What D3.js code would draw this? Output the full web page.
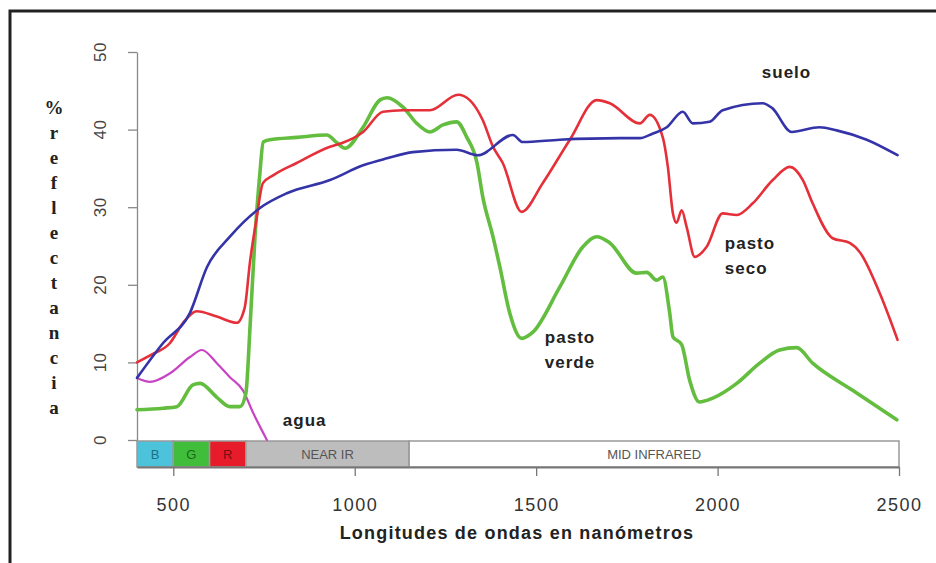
<!DOCTYPE html>
<html lang="es">
<head>
  <meta charset="UTF-8" />
  <title>Firmas espectrales</title>
  <script src="https://d3js.org/d3.v7.min.js"></script>
  <style>
    body { margin: 0; background: #fff; }
    text { font-family: "Liberation Sans", Arial, sans-serif; }
  </style>
</head>
<body>
  <svg id="chart" width="936" height="563"></svg>

  <script>
    // reflectance curves, wavelength in nm / % reflectance
    const sueloNm = [400, 472, 546, 593, 656, 739, 813, 932, 1023, 1089, 1160, 1281, 1339, 1436, 1463, 1565, 1731, 1786, 1822, 1860, 1904, 1932, 1978, 2014, 2124, 2150, 2204, 2281, 2328, 2411, 2496];
    const sueloVal = [8.0, 12.5, 16.4, 22.3, 26.2, 29.9, 31.8, 33.5, 35.4, 36.3, 37.1, 37.4, 36.7, 39.3, 38.4, 38.7, 38.9, 38.9, 39.5, 40.3, 42.3, 40.8, 41.0, 42.5, 43.4, 42.8, 39.7, 40.3, 39.9, 38.7, 36.7];

    const secoNm = [400, 440, 491, 527, 565, 620, 675, 697, 711, 730, 747, 775, 840, 932, 967, 1023, 1078, 1133, 1207, 1285, 1317, 1353, 1381, 1408, 1460, 1518, 1593, 1667, 1703, 1786, 1813, 1849, 1863, 1877, 1887, 1901, 1915, 1937, 1970, 2014, 2053, 2097, 2152, 2199, 2235, 2262, 2317, 2364, 2392, 2447, 2496];
    const secoVal = [10.0, 11.0, 12.5, 15.1, 16.6, 15.9, 15.1, 17.1, 22.8, 28.7, 33.1, 34.1, 35.7, 37.8, 38.3, 39.7, 42.3, 42.5, 42.5, 44.5, 43.8, 41.2, 37.8, 35.7, 29.4, 33.1, 38.7, 43.8, 43.4, 40.8, 41.9, 39.0, 35.2, 29.2, 28.0, 29.6, 27.4, 23.6, 24.9, 29.2, 29.0, 30.5, 33.5, 35.2, 33.5, 30.5, 26.0, 25.4, 24.2, 18.9, 12.9];

    const verdeNm = [400, 472, 510, 554, 574, 620, 656, 684, 700, 712, 725, 738, 748, 766, 841, 923, 951, 973, 1023, 1069, 1089, 1133, 1171, 1207, 1243, 1281, 1309, 1337, 1353, 1381, 1400, 1427, 1460, 1491, 1565, 1629, 1667, 1703, 1777, 1805, 1832, 1849, 1868, 1877, 1901, 1923, 1950, 1987, 2053, 2116, 2171, 2218, 2262, 2372, 2494];
    const verdeVal = [3.9, 4.1, 4.3, 7.1, 7.3, 5.5, 4.3, 4.3, 6.0, 15.0, 26.0, 34.0, 38.4, 38.7, 39.0, 39.3, 38.3, 37.6, 40.3, 43.8, 44.1, 42.9, 40.8, 39.7, 40.6, 41.0, 39.0, 35.7, 31.3, 26.2, 22.3, 16.4, 13.1, 13.9, 19.7, 24.9, 26.2, 25.4, 21.5, 21.6, 20.6, 21.0, 16.4, 13.3, 12.3, 7.7, 4.9, 5.4, 7.3, 9.9, 11.6, 11.9, 9.9, 6.4, 2.6];

    const aguaNm = [400, 436, 491, 546, 579, 620, 656, 692, 720, 758];
    const aguaVal = [8.0, 7.5, 8.6, 10.7, 11.6, 9.9, 8.1, 6.4, 3.5, 0.0];

    // spectral regions along the bottom
    const bandLabels = ["B", "G", "R", "NEAR IR", "MID INFRARED"];
    const bandFrom = [400, 500, 600, 700, 1150];
    const bandTo = [500, 600, 700, 1150, 2500];

    const xTicks = [500, 1000, 1500, 2000, 2500];
    const yTicks = [0, 10, 20, 30, 40, 50];
    const yTitle = ["%", "r", "e", "f", "l", "e", "c", "t", "a", "n", "c", "i", "a"];

    // curve labels: text lines, anchor nm, anchor value
    const labelLines = [["suelo"], ["pasto", "seco"], ["pasto", "verde"], ["agua"]];
    const labelNm = [2122, 2020, 1524, 802];
    const labelVal = [46.6, 24.6, 12.5, 1.8];

    const svg = d3.select("#chart");

    const x = d3.scaleLinear().domain([400, 2500]).range([137, 899]);
    const y = d3.scaleLinear().domain([0, 50]).range([440, 52]);

    // frame
    svg.append("rect")
      .attr("x", 10).attr("y", 11)
      .attr("width", 960).attr("height", 600)
      .attr("fill", "none")
      .attr("stroke", "#222")
      .attr("stroke-width", 3);

    // band strip
    const bandFill = ["#4cc3da", "#41bd3c", "#e61c2a", "#bdbdbd", "#ffffff"];
    const bandText = ["#1d6f84", "#1a6a18", "#7a0c12", "#555", "#555"];
    const stripTop = y(0) + 1, stripBottom = 467;

    const bands = svg.append("g");
    bandLabels.forEach((lab, i) => {
      bands.append("rect")
        .attr("x", x(bandFrom[i]))
        .attr("y", stripTop)
        .attr("width", x(bandTo[i]) - x(bandFrom[i]))
        .attr("height", stripBottom - stripTop)
        .attr("fill", bandFill[i])
        .attr("stroke", "#999")
        .attr("stroke-width", 1.5);
      bands.append("text")
        .attr("x", x((bandFrom[i] + bandTo[i]) / 2))
        .attr("y", (stripTop + stripBottom) / 2 + 5)
        .attr("text-anchor", "middle")
        .attr("font-size", 13)
        .attr("fill", bandText[i])
        .text(lab);
    });

    // y axis
    const yAxis = svg.append("g")
      .attr("transform", `translate(${x(400)},0)`)
      .call(d3.axisLeft(y).tickValues(yTicks).tickSize(9).tickSizeOuter(0).tickFormat(""));
    yAxis.selectAll("path, line").attr("stroke", "#888").attr("stroke-width", 1.3);

    svg.append("g").selectAll("text")
      .data(yTicks)
      .join("text")
      .attr("transform", d => `translate(100,${y(d)}) rotate(-90)`)
      .attr("text-anchor", "middle")
      .attr("dy", "0.35em")
      .attr("font-size", 17)
      .attr("letter-spacing", 0.5)
      .attr("fill", "#444")
      .text(d => d);

    // x axis
    const xAxis = svg.append("g")
      .attr("transform", `translate(0,${stripBottom})`)
      .call(d3.axisBottom(x).tickValues(xTicks).tickFormat(d3.format("d"))
        .tickSize(9).tickSizeOuter(0).tickPadding(22));
    xAxis.select(".domain").attr("stroke", "#777").attr("stroke-width", 2);
    xAxis.selectAll(".tick line").attr("stroke", "#777").attr("stroke-width", 1.3);
    xAxis.selectAll("text")
      .attr("font-size", 18)
      .attr("letter-spacing", 1.5)
      .attr("fill", "#333");

    // curves
    const line = d3.line()
      .x(d => x(d[0]))
      .y(d => y(d[1]))
      .curve(d3.curveMonotoneX);

    const curves = [
      { nm: aguaNm, val: aguaVal, color: "#c844c4", width: 2.2 },
      { nm: verdeNm, val: verdeVal, color: "#63bd3f", width: 3.6 },
      { nm: secoNm, val: secoVal, color: "#e5303a", width: 2.6 },
      { nm: sueloNm, val: sueloVal, color: "#3434a8", width: 2.6 }
    ];

    curves.forEach(c => {
      svg.append("path")
        .datum(d3.zip(c.nm, c.val))
        .attr("fill", "none")
        .attr("stroke", c.color)
        .attr("stroke-width", c.width)
        .attr("stroke-linejoin", "round")
        .attr("stroke-linecap", "round")
        .attr("d", line);
    });

    // curve labels
    labelLines.forEach((lines, i) => {
      const t = svg.append("text")
        .attr("x", x(labelNm[i]))
        .attr("y", y(labelVal[i]))
        .attr("font-size", 17)
        .attr("font-weight", "bold")
        .attr("letter-spacing", 1)
        .attr("fill", "#222");
      lines.forEach((s, j) => {
        t.append("tspan")
          .attr("x", x(labelNm[i]))
          .attr("dy", j === 0 ? 0 : 25)
          .text(s);
      });
    });

    // axis titles
    svg.append("text")
      .attr("x", 517)
      .attr("y", 539)
      .attr("text-anchor", "middle")
      .attr("font-size", 18)
      .attr("font-weight", "bold")
      .attr("letter-spacing", 1.2)
      .attr("fill", "#222")
      .text("Longitudes de ondas en nanómetros");

    svg.append("g").selectAll("text")
      .data(yTitle)
      .join("text")
      .attr("x", 54)
      .attr("y", (d, i) => 114 + i * 25)
      .attr("text-anchor", "middle")
      .style("font-family", "'Liberation Serif', 'Times New Roman', serif")
      .attr("font-size", 19)
      .attr("font-weight", "bold")
      .attr("fill", "#222")
      .text(d => d);
  </script>
</body>
</html>
